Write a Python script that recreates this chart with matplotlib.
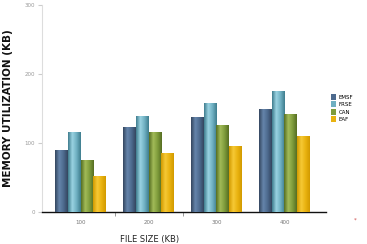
import numpy as np
import matplotlib
matplotlib.use("Agg")
import matplotlib.pyplot as plt
from matplotlib.colors import LinearSegmentedColormap

categories = ["100", "200", "300", "400"]
series_names = ["EMSF", "FRSE", "CAN", "EAF"]
emsf = [90, 123, 138, 149]
frse = [116, 139, 158, 175]
can = [75, 116, 126, 142]
eaf = [52, 86, 96, 110]
series_values = [emsf, frse, can, eaf]

base_colors = ["#4d6a8e", "#6fb0c2", "#7f9c3c", "#e9b310"]
grad_stops = [
    ["#34465f", "#6585ab", "#4d6a8e", "#34465f"],
    ["#3f7d8e", "#9ad3e2", "#6fb0c2", "#3f7d8e"],
    ["#566e22", "#a2bb58", "#7f9c3c", "#566e22"],
    ["#d29a00", "#f6c935", "#e9b310", "#d29a00"],
]

fig = plt.figure(figsize=(3.67, 2.44), dpi=100)
ax = fig.add_axes([0.114, 0.131, 0.774, 0.849])

x = np.arange(len(categories))
w = 0.19
grad = np.linspace(0, 1, 64).reshape(1, -1)
for i, (name, vals) in enumerate(zip(series_names, series_values)):
    bars = ax.bar(x + (i - 1.5) * w, vals, w, color=base_colors[i], label=name,
                  linewidth=0, zorder=2)
    cmap = LinearSegmentedColormap.from_list("g%d" % i, grad_stops[i])
    for b in bars:
        bx, by = b.get_x(), b.get_y()
        bw, bh = b.get_width(), b.get_height()
        im = ax.imshow(grad, cmap=cmap, aspect="auto",
                       extent=(bx, bx + bw, by, by + bh), zorder=3,
                       interpolation="bilinear")
        im.set_clip_path(b)

ax.set_xlim(-0.57, 3.61)
ax.set_ylim(0, 300)
ax.set_yticks([0, 100, 200, 300])
ax.set_yticklabels(["0", "100", "200", "300"], fontsize=4, color="#999999")
ax.set_xticks(x)
ax.set_xticklabels(categories, fontsize=4, color="#777777")
ax.set_xticks([0.5, 1.5], minor=True)
ax.tick_params(axis="x", which="major", length=0, pad=6)
ax.tick_params(axis="x", which="minor", length=3, color="#888888", direction="out")
ax.tick_params(axis="y", length=3, color="#cccccc", pad=2)

for s in ["top", "right"]:
    ax.spines[s].set_visible(False)
ax.spines["left"].set_color("#dddddd")
ax.spines["left"].set_linewidth(0.8)
ax.spines["bottom"].set_color("#111111")
ax.spines["bottom"].set_linewidth(1.0)

ax.set_ylabel("MEMORY UTILIZATION (KB)", fontsize=7.5, fontweight="bold",
              color="#111111", labelpad=8)
ax.set_xlabel("FILE SIZE (KB)", fontsize=6, color="#222222")
ax.xaxis.set_label_coords(0.38, -0.11)

ax.legend(loc="upper left", bbox_to_anchor=(1.01, 0.58), frameon=False,
          fontsize=4, handlelength=0.9, handleheight=1.2, labelspacing=0.3,
          handletextpad=0.5, borderaxespad=0)

fig.text(355 / 367, 1 - 220 / 244, "*", fontsize=4, color="#cc4444",
         ha="center", va="center")

fig.savefig("out.png", dpi=100)
